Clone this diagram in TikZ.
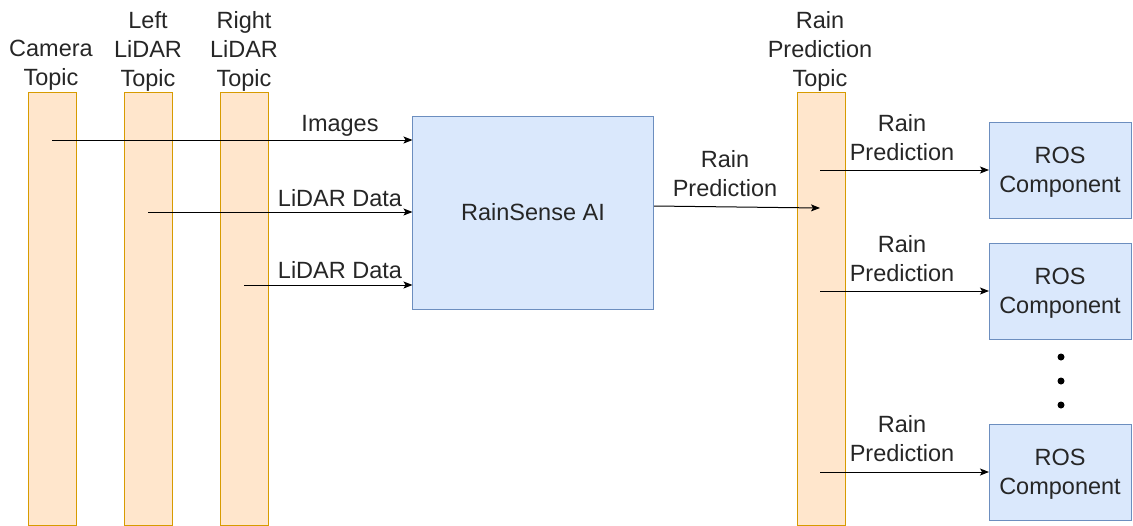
\documentclass[tikz,border=0pt]{standalone}
\usepackage{fontspec}
\setmainfont{Liberation Sans}
\usetikzlibrary{arrows.meta}
\definecolor{barfill}{HTML}{FFE6CC}
\definecolor{bardraw}{HTML}{D79B00}
\definecolor{boxfill}{HTML}{DAE8FC}
\definecolor{boxdraw}{HTML}{6C8EBF}
\definecolor{txt}{HTML}{262626}
\begin{document}
\begin{tikzpicture}[x=1pt,y=-1pt,
  every node/.style={text=txt,font=\fontsize{23.5}{29}\selectfont,inner sep=0pt,outer sep=0pt},
  bar/.style={draw=bardraw,fill=barfill,line width=1pt,minimum width=48pt,minimum height=433pt,anchor=north},
  box/.style={draw=boxdraw,fill=boxfill,line width=1pt},
  lbl/.style={align=center,yshift=-2.5pt},
  tl/.style={yshift=-2pt},
  arr/.style={line width=1pt,draw=black,-{Stealth[length=9pt,width=7pt,inset=2pt]}}]
\useasboundingbox (0,0) rectangle (1133,525);
% topic bars
\node[bar] (cam) at (52,92) {};
\node[bar] (left) at (148,92) {};
\node[bar] (right) at (244,92) {};
\node[bar] (rp) at (821,92) {};
% topic labels
\node[lbl] (camlbl) at (51,63) {Camera\\Topic};
\node[lbl] (leftlbl) at (148,49) {Left\\LiDAR\\Topic};
\node[lbl] (rightlbl) at (244,49) {Right\\LiDAR\\Topic};
\node[lbl] (rplbl) at (820,49) {Rain\\Prediction\\Topic};
% main box
\node[box,minimum width=241pt,minimum height=193pt] (ai) at (533,212.5) {\raisebox{-1pt}{RainSense AI}};
% ROS boxes
\node[box,minimum width=142pt,minimum height=96pt,label={[lbl]center:{ROS\\Component}}] (ros1) at (1060,170) {};
\node[box,minimum width=142pt,minimum height=96pt,label={[lbl]center:{ROS\\Component}}] (ros2) at (1060,291) {};
\node[box,minimum width=142pt,minimum height=96pt,label={[lbl]center:{ROS\\Component}}] (ros3) at (1060,472) {};
% dots
\fill[black] (1061,357) circle (3.5pt) (1061,381) circle (3.5pt) (1061,405) circle (3.5pt);
% connector start points
\coordinate (c1) at (52,140);
\coordinate (c2) at (148,212);
\coordinate (c3) at (244,285);
\coordinate (aiout) at (654,206);
\coordinate (rpin) at (820,208);
\coordinate (r1) at (820,170);
\coordinate (r2) at (820,291);
\coordinate (r3) at (820,472);
% arrows
\draw[arr] (c1) -- (ai.west |- c1);
\draw[arr] (c2) -- (ai.west |- c2);
\draw[arr] (c3) -- (ai.west |- c3);
\draw[arr] (aiout) -- (rpin);
\draw[arr] (r1) -- (ros1.west |- r1);
\draw[arr] (r2) -- (ros2.west |- r2);
\draw[arr] (r3) -- (ros3.west |- r3);
% connector labels
\node[tl] (l1) at (340,124) {Images};
\node[tl] (l2) at (340,196) {LiDAR Data};
\node[tl] (l3) at (340,268) {LiDAR Data};
\node[lbl] (l4) at (725,171.5) {Rain\\Prediction};
\node[lbl] (l5) at (902,135.5) {Rain\\Prediction};
\node[lbl] (l6) at (902,256.5) {Rain\\Prediction};
\node[lbl] (l7) at (902,436.5) {Rain\\Prediction};
\end{tikzpicture}
\end{document}
